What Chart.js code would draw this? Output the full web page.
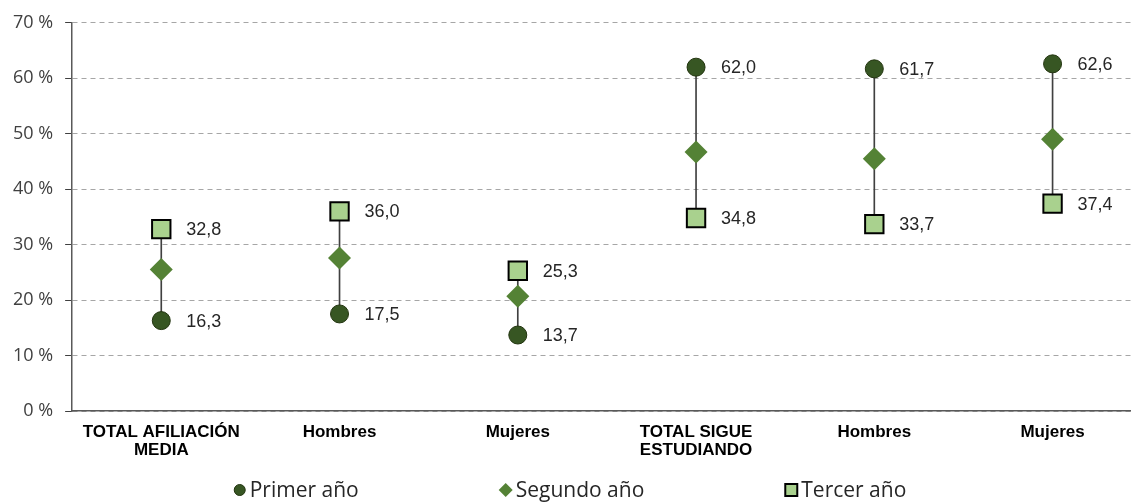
<!DOCTYPE html>
<html>
<head>
<meta charset="utf-8">
<script src="https://cdn.jsdelivr.net/npm/chart.js@4/dist/chart.umd.min.js"></script>
<style>
html,body{margin:0;padding:0;background:#fff;}
#wrap{width:1131px;height:503px;}
</style>
</head>
<body>
<div id="wrap"><canvas id="c" width="1131" height="503"></canvas></div>
<script>
const categories = [['TOTAL AFILIACIÓN','MEDIA'], 'Hombres', 'Mujeres', ['TOTAL SIGUE','ESTUDIANDO'], 'Hombres', 'Mujeres'];
const seriesNames = ['Primer año', 'Segundo año', 'Tercer año'];
const primerAnio = [16.3, 17.5, 13.7, 62.0, 61.7, 62.6];
const segundoAnio = [25.5, 27.6, 20.7, 46.7, 45.5, 49.0];
const tercerAnio = [32.8, 36.0, 25.3, 34.8, 33.7, 37.4];
const yTicks = [0, 10, 20, 30, 40, 50, 60, 70];

const C1 = '#375623', C1b = '#22340f';
const C2 = '#548235';
const C3 = '#a9d18e', C3b = '#000000';

const pts = arr => arr.map((v, i) => ({x: i, y: v}));
const fmt = v => v.toFixed(1).replace('.', ',');

const labelPlugin = {
  id: 'valueLabels',
  afterDatasetsDraw(chart) {
    const ctx = chart.ctx;
    ctx.save();
    ctx.font = '18px "Liberation Sans", Arial, sans-serif';
    ctx.fillStyle = '#262626';
    ctx.textAlign = 'left';
    ctx.textBaseline = 'middle';
    [1, 3].forEach(di => {
      const ds = chart.data.datasets[di];
      chart.getDatasetMeta(di).data.forEach((el, i) => {
        ctx.fillText(fmt(ds.data[i].y), el.x + 25, el.y + 1);
      });
    });
    ctx.restore();
  }
};

const legendPlugin = {
  id: 'customLegend',
  afterDraw(chart) {
    const ctx = chart.ctx;
    ctx.save();
    ctx.font = '21px "Open Sans", sans-serif';
    ctx.textBaseline = 'middle';
    ctx.textAlign = 'left';
    const y = 490;
    const gap = 140, box = 14, tgap = 3;
    const widths = seriesNames.map(n => box + tgap + ctx.measureText(n).width);
    const total = widths.reduce((a, b) => a + b, 0) + gap * (widths.length - 1);
    let x = chart.width / 2 - total / 2 + 4;
    seriesNames.forEach((n, k) => {
      const cx = x + box / 2;
      ctx.beginPath();
      if (k === 0) {
        ctx.arc(cx, y, 5.5, 0, Math.PI * 2);
        ctx.fillStyle = C1; ctx.fill();
        ctx.strokeStyle = C1b; ctx.lineWidth = 1; ctx.stroke();
      } else if (k === 1) {
        ctx.moveTo(cx, y - 7); ctx.lineTo(cx + 7, y); ctx.lineTo(cx, y + 7); ctx.lineTo(cx - 7, y); ctx.closePath();
        ctx.fillStyle = C2; ctx.fill();
      } else {
        ctx.rect(cx - 6, y - 6, 12, 12);
        ctx.fillStyle = C3; ctx.fill();
        ctx.strokeStyle = C3b; ctx.lineWidth = 2; ctx.stroke();
      }
      ctx.fillStyle = '#262626';
      ctx.fillText(n, x + box + tgap, y + 1);
      x += widths[k] + gap;
    });
    ctx.restore();
  }
};

new Chart(document.getElementById('c'), {
  type: 'scatter',
  data: {
    datasets: [
      {
        type: 'bar',
        label: 'rango',
        data: primerAnio.map((v, i) => ({x: i, y: [v, tercerAnio[i]]})),
        backgroundColor: '#404040',
        barThickness: 1,
        order: 10
      },
      {
        label: seriesNames[0], data: pts(primerAnio),
        pointStyle: 'circle', pointRadius: 9, pointHoverRadius: 9,
        backgroundColor: C1, borderColor: C1b, borderWidth: 1, order: 1
      },
      {
        label: seriesNames[1], data: pts(segundoAnio),
        pointStyle: 'rectRot', pointRadius: 11.5, pointHoverRadius: 11.5,
        backgroundColor: C2, borderColor: C2, borderWidth: 0, order: 2
      },
      {
        label: seriesNames[2], data: pts(tercerAnio),
        pointStyle: 'rect', pointRadius: 13, pointHoverRadius: 13,
        backgroundColor: C3, borderColor: C3b, borderWidth: 2, order: 3
      }
    ]
  },
  options: {
    responsive: false,
    devicePixelRatio: 1,
    animation: false,
    layout: {autoPadding: false, padding: {left: 1, right: 0, top: 19, bottom: 32}},
    plugins: {legend: {display: false}, tooltip: {enabled: false}},
    scales: {
      x: {
        type: 'linear',
        offset: false,
        min: -0.5, max: 5.44,
        afterBuildTicks: axis => { axis.ticks = categories.map((_, i) => ({value: i})); },
        afterFit: axis => { axis.paddingRight = 0; axis.paddingLeft = 0; },
        ticks: {
          autoSkip: false, maxRotation: 0, padding: 12,
          color: '#000',
          font: {family: '"Liberation Sans", Arial, sans-serif', size: 17, weight: 'bold', lineHeight: '18px'},
          callback: v => categories[v]
        },
        grid: {display: false, drawTicks: false, offset: false},
        border: {display: true, color: '#595959', width: 1.5}
      },
      y: {
        min: 0, max: 70,
        afterBuildTicks: axis => { axis.ticks = yTicks.map(v => ({value: v})); },
        ticks: {
          padding: 12, color: '#404040',
          font: {family: '"Open Sans", sans-serif', size: 18},
          callback: v => v + ' %'
        },
        grid: {
          color: '#a6a6a6', lineWidth: 1, tickLength: 7,
          tickColor: '#404040', tickBorderDash: [],
          drawTicks: true
        },
        border: {display: true, color: '#595959', width: 1.5, dash: [5, 4]}
      }
    }
  },
  plugins: [labelPlugin, legendPlugin]
});
</script>
</body>
</html>
